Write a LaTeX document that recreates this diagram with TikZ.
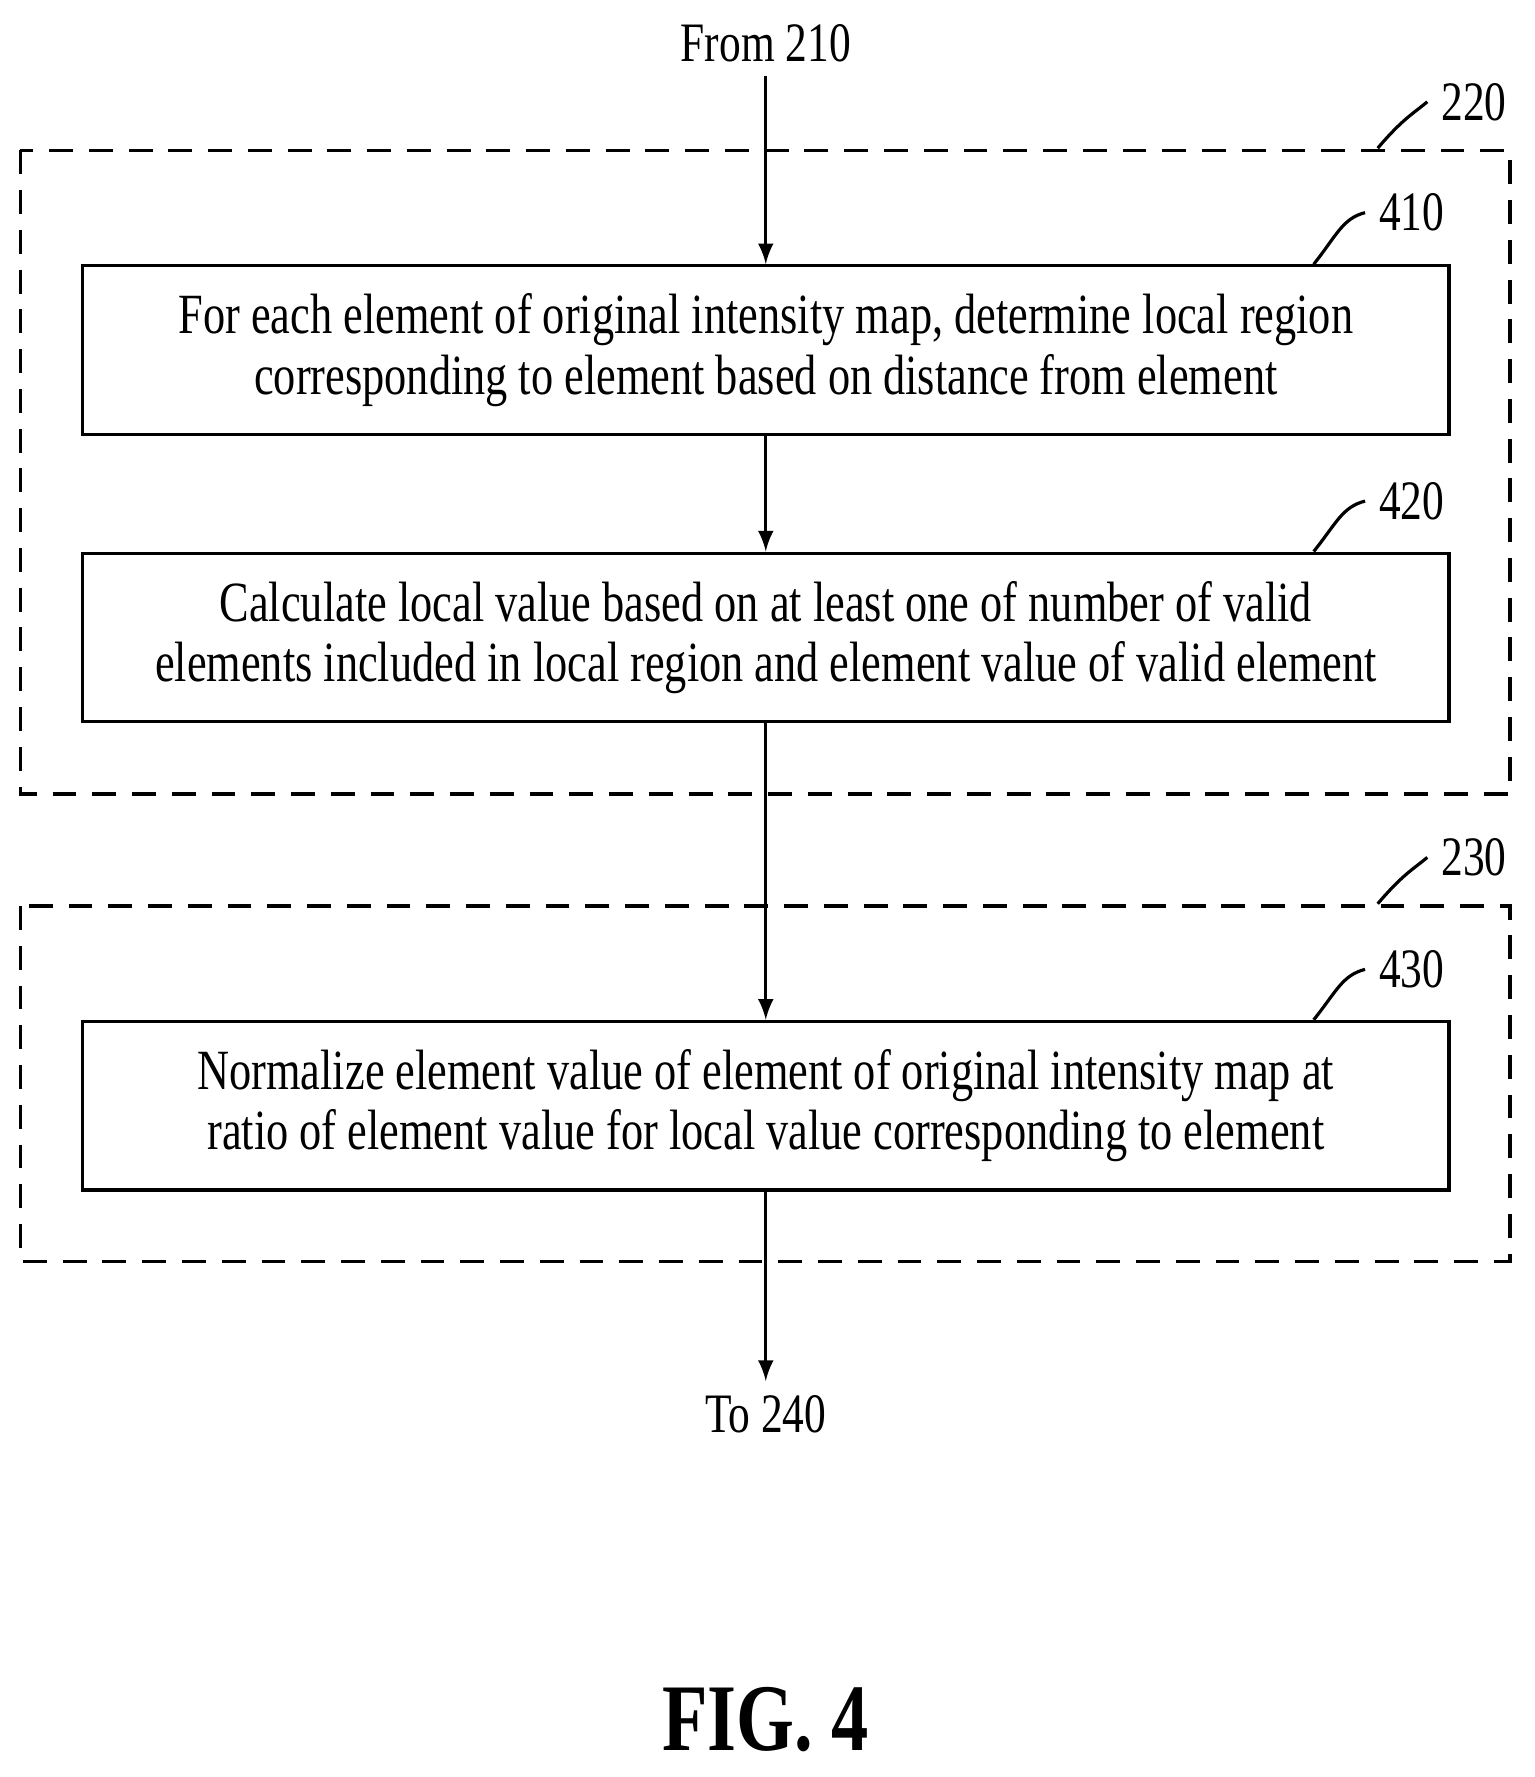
\documentclass[tikz,border=0pt]{standalone}
\usepackage{fontspec}
\setmainfont{Liberation Serif}[FakeStretch=0.78]
\usetikzlibrary{positioning}

\tikzset{
    box/.style={draw, thick, minimum width=12.08cm, minimum height=1.49cm, align=center,
        font=\fontsize{14.3}{15.2}\selectfont},
    group/.style={draw, thick, dashed, dash pattern=on 6pt off 4pt},
    lbl/.style={font=\fontsize{14}{15.5}\selectfont},
    flow/.style={thick, -latex}
}

\begin{document}
\begin{tikzpicture}

    \useasboundingbox (0,0) rectangle (13.57,-15.71);

    % dashed groups
    \draw[group] (0.18,-1.33) rectangle (13.35,-7.02);
    \draw[group] (0.18,-8.01) rectangle (13.35,-11.15);

    \node[lbl] (t220) at (13.03,-0.9) {220};
    \node[lbl] (t230) at (13.03,-7.58) {230};
    \draw[thick] (12.18,-1.31) .. controls (12.4,-1.05) and (12.5,-1.0) .. (t220.west);
    \draw[thick] (12.18,-7.99) .. controls (12.4,-7.73) and (12.5,-7.68) .. (t230.west);

    % steps
    \node[box] (s410) at (6.77,-3.095) {For each element of original intensity map, determine local region\\corresponding to element based on distance from element};
    \node[box] (s420) at (6.77,-5.635) {Calculate local value based on at least one of number of valid\\elements included in local region and element value of valid element};
    \node[box] (s430) at (6.77,-9.775) {Normalize element value of element of original intensity map at\\ratio of element value for local value corresponding to element};

    \node[lbl] (t410) at (12.48,-1.88) {410};
    \node[lbl] (t420) at (12.48,-4.43) {420};
    \node[lbl] (t430) at (12.48,-8.57) {430};
    \foreach \n in {410,420,430}
        \draw[thick] ([xshift=-1.21cm]s\n.north east) .. controls +(0.2,0.25) and +(-0.2,-0.05) .. (t\n.west);

    % in and out
    \node[lbl] (from) at (6.77,-0.38) {From 210};
    \node[lbl] (to) at (6.77,-12.5) {To 240};

    \draw[flow] (from) -- (s410);
    \draw[flow] (s410) -- (s420);
    \draw[flow] (s420) -- (s430);
    \draw[flow] (s430) -- (to);

    \node[font=\fontsize{24}{28}\selectfont\bfseries] (fig) at (6.77,-15.2) {FIG. 4};

\end{tikzpicture}
\end{document}
